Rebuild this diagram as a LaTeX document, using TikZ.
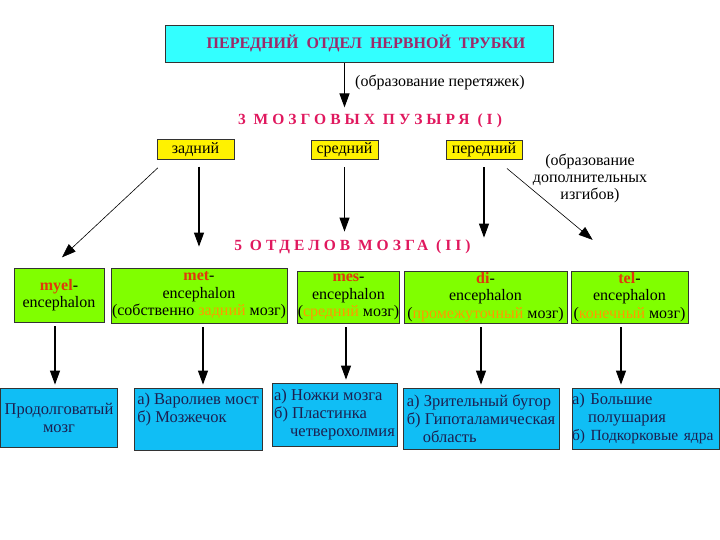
\documentclass[tikz,border=0pt]{standalone}
\usepackage{fontspec}
\setmainfont{Liberation Serif}
\usetikzlibrary{arrows.meta}

\definecolor{tubecyan}{HTML}{33FFFF}
\definecolor{titlepurple}{HTML}{9C2A6A}
\definecolor{headred}{HTML}{E0185E}
\definecolor{partgreen}{HTML}{80FF00}
\definecolor{endblue}{HTML}{10BEF5}
\definecolor{endtext}{HTML}{1C2050}
\definecolor{pfxred}{HTML}{E0380C}
\definecolor{wordorange}{HTML}{FF9900}

\newcommand{\pfx}[1]{\textbf{\color{pfxred}#1}}
\newcommand{\wrd}[1]{{\color{wordorange}#1}}

\begin{document}
\begin{tikzpicture}[x=1pt,y=-1pt,
  box/.style={draw=black!80,line width=0.8pt,inner sep=0pt},
  tubebox/.style={box,fill=tubecyan,text=titlepurple,font=\fontsize{16}{18}\selectfont\bfseries},
  vesbox/.style={box,fill=yellow,minimum height=19.5pt,font=\fontsize{16}{18}\selectfont},
  partbox/.style={box,fill=partgreen,align=center,font=\fontsize{16}{17.5}\selectfont},
  endbox/.style={box,fill=endblue,text=endtext,align=left,font=\fontsize{16.5}{18}\selectfont},
  headline/.style={text=headred,font=\fontsize{15.5}{17}\selectfont\bfseries\addfontfeature{LetterSpace=26}},
  note/.style={font=\fontsize{16}{17}\selectfont,align=center,inner sep=0pt},
  arr/.style={-{Triangle[length=14pt,width=10pt]},line width=1.1pt},
  thinarr/.style={-{Triangle[length=14pt,width=10pt]},line width=0.6pt}]

\useasboundingbox (0,0) rectangle (720,540);

% neural tube and three vesicles
\node[tubebox,minimum width=388pt,minimum height=37pt] (otd) at (359,43.5)
  {\hspace*{14pt}ПЕРЕДНИЙ\enspace ОТДЕЛ\enspace НЕРВНОЙ\enspace ТРУБКИ};
\node[note,anchor=west] (pere) at (355,82) {(образование перетяжек)};
\node[headline] (puz) at (370,121) {3 МОЗГОВЫХ ПУЗЫРЯ (I)};

\node[vesbox,minimum width=77pt] (zad) at (195.5,149.5) {задний};
\node[vesbox,minimum width=67pt] (sred) at (344.5,150) {средний};
\node[vesbox,minimum width=76pt] (per) at (484,150) {передний};
\node[note] (izg) at (590,178) {(образование\\дополнительных\\изгибов)};

\node[headline] (otdel) at (352.5,247) {5 ОТДЕЛОВ\enspace МОЗГА\enspace (II)};

% five parts of the brain
\node[partbox,minimum width=90pt,minimum height=54pt] (myel) at (59,295)
  {\pfx{myel}-\\encephalon};
\node[partbox,minimum width=176pt,minimum height=55pt] (met) at (199,295.5)
  {\pfx{met}-\\encephalon\\(собственно \wrd{задний} мозг)};
\node[partbox,minimum width=101pt,minimum height=52pt] (mes) at (348.5,297)
  {\pfx{mes}-\\encephalon\\(\wrd{средний} мозг)};
\node[partbox,minimum width=163pt,minimum height=52pt] (di) at (485.5,297)
  {\pfx{di}-\\encephalon\\(\wrd{промежуточный} мозг)};
\node[partbox,minimum width=117pt,minimum height=52pt] (tel) at (629.5,297)
  {\pfx{tel}-\\encephalon\\(\wrd{конечный} мозг)};

% derivatives
\node[endbox,minimum width=117pt,minimum height=59pt,align=center] (prod) at (59,417.5)
  {Продолговатый\\мозг};
\node[endbox,minimum width=128pt,minimum height=62pt] (varol) at (198,419)
  {а) Варолиев мост\\б) Мозжечок\\[4pt]};
\node[endbox,minimum width=125pt,minimum height=63pt] (nozh) at (334.5,414.5)
  {а) Ножки мозга\\б) Пластинка\\\hspace*{16pt}четверохолмия};
\node[endbox,minimum width=156pt,minimum height=61pt] (zrit) at (481,418.5)
  {а) Зрительный бугор\\б) Гипоталамическая\\\hspace*{16pt}область};
\node[endbox,minimum height=61pt,text width=147pt] (bolsh) at (645.5,418.5)
  {а) Большие\\\hspace*{16pt}полушария\\\mbox{\fontsize{15.5}{18}\selectfont б) Подкорковые ядра}};

% arrows
\draw[arr,shorten <=1pt,shorten >=3pt] (otd.south -| sred.north) -- (puz.north -| sred.north);
\draw[thinarr,shorten <=12pt,shorten >=15pt] ([xshift=10pt]zad.south west) -- ([xshift=-8pt]myel.north);
\draw[arr,shorten <=7pt,shorten >=21pt] (zad.south -| met.north) -- (met.north);
\draw[arr,shorten <=7pt,shorten >=39pt] (sred.south) -- (sred.south |- mes.north);
\draw[arr,shorten <=7pt,shorten >=33pt] (per.south) -- (per.south |- di.north);
\draw[thinarr,shorten <=13pt,shorten >=48pt] ([xshift=13pt]per.south) -- (tel.north);

\foreach \a/\b/\x in {myel/prod/55,met/varol/203,mes/nozh/346,di/zrit/481,tel/bolsh/621}
  \draw[arr,shorten <=4pt,shorten >=3pt] (\a.south -| \x,0) -- (\b.north -| \x,0);

\end{tikzpicture}
\end{document}
